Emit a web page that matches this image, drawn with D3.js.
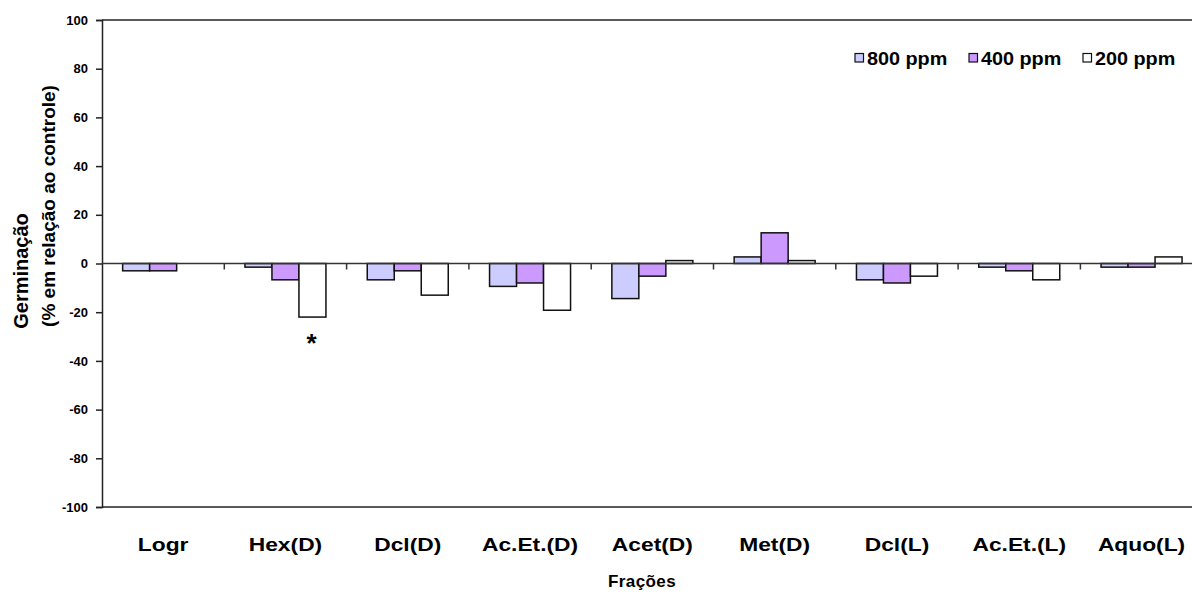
<!DOCTYPE html>
<html>
<head>
<meta charset="utf-8">
<script src="https://cdn.jsdelivr.net/npm/d3@7"></script>
<style>
  html, body { margin: 0; padding: 0; background: #fff; }
  svg { display: block; font-family: "Liberation Sans", Arial, sans-serif; font-weight: bold; }
</style>
</head>
<body>
<svg id="chart" width="1192" height="594"></svg>
<script>
// Fractions tested
const categories = ["Logr", "Hex(D)", "Dcl(D)", "Ac.Et.(D)", "Acet(D)", "Met(D)", "Dcl(L)", "Ac.Et.(L)", "Aquo(L)"];
// Concentrations
const seriesNames = ["800 ppm", "400 ppm", "200 ppm"];
// Germination relative to control (%), one array per concentration
const values800 = [-3, -1.5, -6.7, -9.4, -14.4, 2.7, -6.7, -1.5, -1.5];
const values400 = [-3, -6.7, -3, -8, -5.2, 12.6, -8, -3, -1.5];
const values200 = [0, -22, -13, -19.2, 1.2, 1.2, -5.2, -6.7, 2.7];
const yTicks = [100, 80, 60, 40, 20, 0, -20, -40, -60, -80, -100];
// Significant difference marker
const marks = [{ category: "Hex(D)", series: "200 ppm", label: "*" }];

const seriesColors = ["#CCCCFF", "#CC99FF", "#FFFFFF"];
const seriesValues = [values800, values400, values200];

const svg = d3.select("#chart");
const plotLeft = 102, plotTop = 20, plotBottom = 507;
const band = 122.3;
const plotRight = plotLeft + band * categories.length;

const x0 = d3.scaleBand().domain(categories).range([plotLeft, plotRight]).paddingInner(0).paddingOuter(0);
const x1 = d3.scaleBand().domain(seriesNames).range([0, x0.bandwidth()]).paddingInner(0).paddingOuter(0.765);
const y = d3.scaleLinear().domain([-100, 100]).range([plotBottom, plotTop]);
const color = d3.scaleOrdinal().domain(seriesNames).range(seriesColors);

// plot frame: top and bottom edges
svg.append("line").attr("x1", plotLeft).attr("x2", 1192).attr("y1", y(100)).attr("y2", y(100))
  .attr("stroke", "#222").attr("stroke-width", 1.5);
svg.append("line").attr("x1", plotLeft).attr("x2", 1192).attr("y1", y(-100)).attr("y2", y(-100))
  .attr("stroke", "#222").attr("stroke-width", 1.5);

// y axis
const yAxis = svg.append("g").attr("transform", `translate(${plotLeft},0)`)
  .call(d3.axisLeft(y).tickValues(yTicks).tickSize(6).tickPadding(8).tickFormat(d => String(d)));
yAxis.select(".domain").attr("stroke", "#222").attr("stroke-width", 1.5);
yAxis.selectAll(".tick line").attr("stroke", "#222").attr("stroke-width", 1.5);
yAxis.selectAll(".tick text").attr("font-size", 13).attr("font-weight", "bold")
  .attr("font-family", "Liberation Sans, Arial, sans-serif").attr("fill", "#000");

// bars
const rows = categories.map((c, i) => ({ category: c, vals: seriesNames.map((s, j) => ({ series: s, value: seriesValues[j][i] })) }));
const groups = svg.append("g").selectAll("g").data(rows).join("g")
  .attr("transform", d => `translate(${x0(d.category)},0)`);
groups.selectAll("rect").data(d => d.vals.filter(v => v.value !== 0)).join("rect")
  .attr("x", d => x1(d.series))
  .attr("width", x1.bandwidth())
  .attr("y", d => y(Math.max(0, d.value)))
  .attr("height", d => Math.abs(y(d.value) - y(0)))
  .attr("fill", d => color(d.series))
  .attr("stroke", "#111").attr("stroke-width", 1.5);

// category axis along zero
const xAxis = svg.append("g").attr("transform", `translate(0,${y(0)})`);
xAxis.append("line").attr("x1", plotLeft).attr("x2", 1192).attr("y1", 0).attr("y2", 0)
  .attr("stroke", "#333").attr("stroke-width", 1.5);
xAxis.selectAll("line.tk").data(categories.slice(1)).join("line").attr("class", "tk")
  .attr("x1", d => x0(d)).attr("x2", d => x0(d)).attr("y1", 0).attr("y2", 6)
  .attr("stroke", "#333").attr("stroke-width", 1.5);

// category labels below the plot (wide bold lettering)
svg.append("g").selectAll("text").data(categories).join("text")
  .attr("transform", d => `translate(${x0(d) + x0.bandwidth() / 2},551) scale(1.2,1)`)
  .attr("text-anchor", "middle")
  .attr("font-size", 19)
  .text(d => d);

// significance marker
svg.append("g").selectAll("text").data(marks).join("text")
  .attr("x", d => x0(d.category) + x1(d.series) + x1.bandwidth() / 2 - 1)
  .attr("y", d => y(seriesValues[seriesNames.indexOf(d.series)][categories.indexOf(d.category)]) + 35)
  .attr("text-anchor", "middle")
  .attr("font-size", 26)
  .text(d => d.label);

// axis titles
svg.append("text").attr("transform", "translate(642,587)").attr("text-anchor", "middle")
  .attr("font-size", 17).attr("letter-spacing", 0.4).text("Frações");
svg.append("text").attr("transform", "translate(28,271) rotate(-90)").attr("text-anchor", "middle")
  .attr("font-size", 20).text("Germinação");
svg.append("text").attr("transform", "translate(55,206) rotate(-90)").attr("text-anchor", "middle")
  .attr("font-size", 19).text("(% em relação ao controle)");

// legend
const legendX = [855, 969, 1083];
const legend = svg.append("g").selectAll("g").data(seriesNames).join("g")
  .attr("transform", (d, i) => `translate(${legendX[i]},58)`);
legend.append("rect").attr("x", 0).attr("y", -4.5).attr("width", 8.5).attr("height", 8.5)
  .attr("fill", d => color(d)).attr("stroke", "#111").attr("stroke-width", 1.2);
legend.append("text").attr("transform", "translate(12,6.5) scale(1.1,1)").attr("font-size", 18).text(d => d);
</script>
</body>
</html>
